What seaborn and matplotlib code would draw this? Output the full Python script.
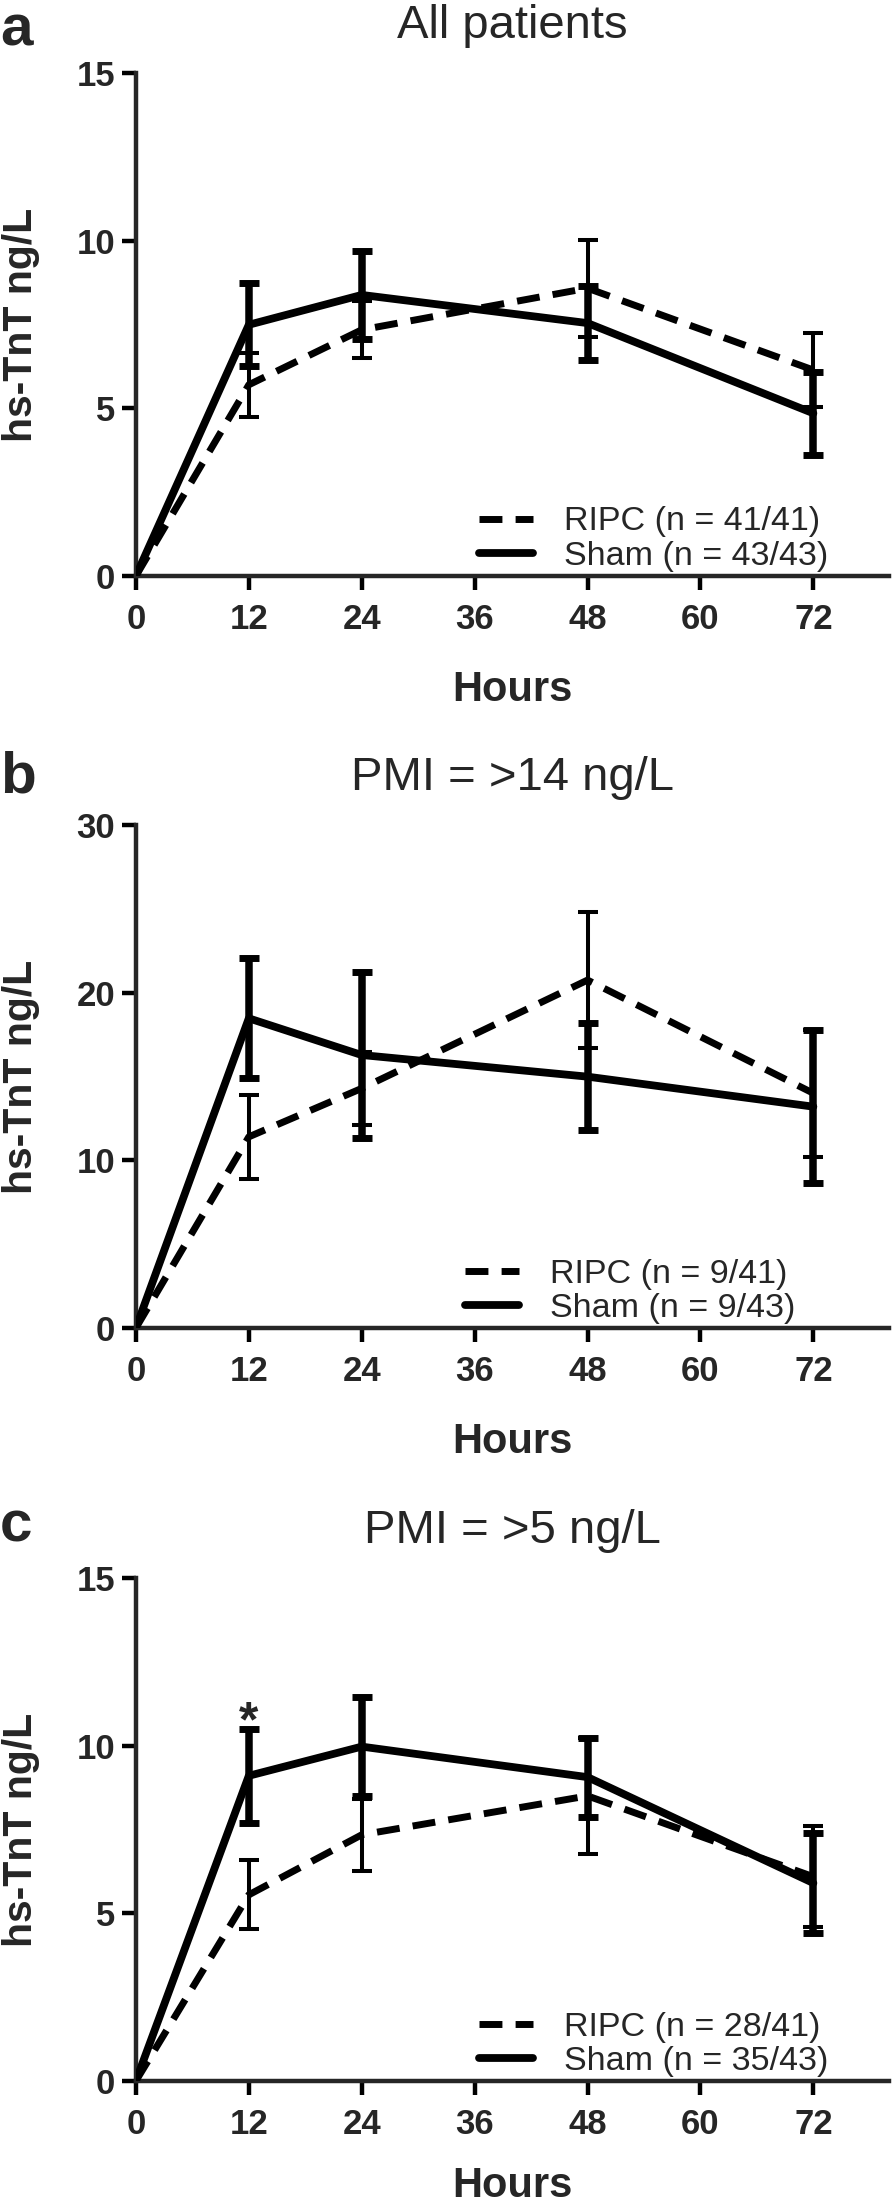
import numpy as np
import pandas as pd
import matplotlib
matplotlib.use('Agg')
import matplotlib.pyplot as plt
import seaborn as sns

# Datos
hours = [0, 12, 24, 48, 72]

ripc_a = [0, 5.70, 7.34, 8.58, 6.14]
ripc_err_a = [0, 0.95, 0.85, 1.45, 1.10]
sham_a = [0, 7.49, 8.38, 7.54, 4.85]
sham_err_a = [0, 1.24, 1.32, 1.10, 1.24]

ripc_b = [0, 11.40, 14.29, 20.75, 14.00]
ripc_err_b = [0, 2.50, 2.20, 4.05, 3.78]
sham_b = [0, 18.47, 16.28, 14.99, 13.20]
sham_err_b = [0, 3.58, 4.95, 3.20, 4.55]

ripc_c = [0, 5.55, 7.34, 8.50, 6.09]
ripc_err_c = [0, 1.03, 1.08, 1.74, 1.50]
sham_c = [0, 9.10, 9.97, 9.06, 5.90]
sham_err_c = [0, 1.40, 1.47, 1.18, 1.49]

titles = ["All patients", "PMI = >14 ng/L", "PMI = >5 ng/L"]
letters = ["a", "b", "c"]
ripc_labels = ["RIPC (n = 41/41)", "RIPC (n = 9/41)", "RIPC (n = 28/41)"]
sham_labels = ["Sham (n = 43/43)", "Sham (n = 9/43)", "Sham (n = 35/43)"]
ymax = [15, 30, 15]
ystep = [5, 10, 5]
xticks = [0, 12, 24, 36, 48, 60, 72]

sns.set_style('ticks')
plt.rcParams['font.family'] = ['Liberation Sans', 'DejaVu Sans']

fig = plt.figure(figsize=(8.94, 22.10), dpi=100)

panels = [
    (ripc_a, ripc_err_a, sham_a, sham_err_a),
    (ripc_b, ripc_err_b, sham_b, sham_err_b),
    (ripc_c, ripc_err_c, sham_c, sham_err_c),
]
bottoms = [0.7394, 0.3991, 0.0584]
legend_x = [0.4555, 0.437, 0.4555]
letter_y = [45, 792, 1541]
xlabel_y = [-0.2266, -0.2266, -0.2087]  # el ultimo un poco mas arriba para no cortarlo

for i, (ripc, ripc_err, sham, sham_err) in enumerate(panels):
    ax = fig.add_axes([0.152, bottoms[i], 0.842, 0.2276])
    df = pd.DataFrame({'Hours': hours, 'RIPC': ripc, 'Sham': sham})

    sns.lineplot(data=df, x='Hours', y='RIPC', ax=ax, color='black', lw=5,
                 linestyle=(0, (3.3, 1.9)), label=ripc_labels[i], zorder=3)
    sns.lineplot(data=df, x='Hours', y='Sham', ax=ax, color='black', lw=5.6,
                 label=sham_labels[i], zorder=4)

    # barras de error (sin el punto 0)
    h = np.array(hours[1:])
    ax.errorbar(h, ripc[1:], yerr=ripc_err[1:], fmt='none', ecolor='black',
                elinewidth=2.9, capsize=7.2, capthick=2.9, zorder=3)
    ax.errorbar(h, sham[1:], yerr=sham_err[1:], fmt='none', ecolor='black',
                elinewidth=5.4, capsize=7.2, capthick=5.0, zorder=4)

    ax.set_xlim(0, 80)
    ax.set_ylim(0, ymax[i])
    ax.set_xticks(xticks)
    ax.set_yticks(np.arange(0, ymax[i] + 1, ystep[i]))
    sns.despine(ax=ax)
    for s in ['left', 'bottom']:
        ax.spines[s].set_linewidth(3.2)
    ax.tick_params(axis='both', direction='out', length=10, width=3.2,
                   labelsize=25, color='black')
    ax.tick_params(axis='x', pad=9.5)
    ax.tick_params(axis='y', pad=5)
    for lab in ax.get_xticklabels() + ax.get_yticklabels():
        lab.set_fontweight('bold')

    ax.set_xlabel('Hours', fontsize=30, fontweight='bold')
    ax.set_ylabel('hs-TnT ng/L', fontsize=29.5, fontweight='bold')
    ax.xaxis.set_label_coords(0.5, xlabel_y[i])
    ax.xaxis.label.set_va('center')
    ax.yaxis.set_label_coords(-0.153, 0.5)
    ax.yaxis.label.set_va('center')

    ax.set_title(titles[i], fontsize=34, pad=25)

    ax.legend(loc='lower left', bbox_to_anchor=(legend_x[i], 0.008),
              frameon=False, fontsize=24.5, borderpad=0, borderaxespad=0,
              handlelength=1.6, handletextpad=0.9, labelspacing=0.1)

    fig.text(0.0, 1 - letter_y[i] / 2210, letters[i], fontsize=42,
             fontweight='bold', va='baseline', ha='left')

    if i == 2:
        ax.annotate('*', xy=(12, sham[1] + sham_err[1]), xytext=(0, 4),
                    textcoords='offset points', ha='center', va='center',
                    fontsize=36, fontweight='bold')

fig.savefig('out.png', dpi=100)
